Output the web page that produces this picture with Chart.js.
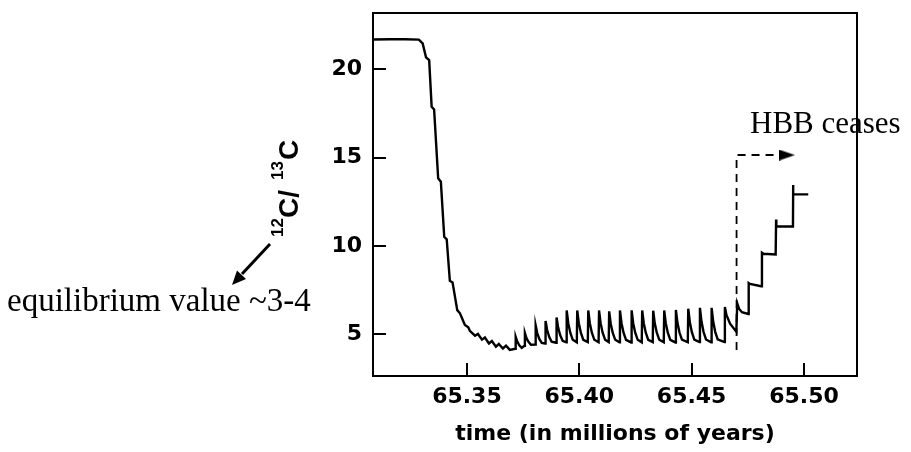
<!DOCTYPE html>
<html><head><meta charset="utf-8">
<script src="https://cdn.jsdelivr.net/npm/chart.js@4.4.0/dist/chart.umd.min.js"></script>
<style>html,body{margin:0;padding:0;background:#fff}canvas{display:block}</style>
</head><body>
<canvas id="c" width="911" height="452"></canvas>
<script>
// time (millions of years) and 12C/13C ratio
const times = [
  65.3082, 65.3157, 65.3224, 65.3286, 65.3303, 65.3318, 65.3332, 65.3343, 65.3354, 65.3372,
  65.3384, 65.3399, 65.3410, 65.3424, 65.3436, 65.3457, 65.3469, 65.3491, 65.3506, 65.3513,
  65.3536, 65.3549, 65.3567, 65.3580, 65.3598, 65.3611, 65.3629, 65.3642, 65.3660, 65.3674,
  65.3691,
  65.3715, 65.3717, 65.3724, 65.3733, 65.3744,
  65.3756, 65.3758, 65.3765, 65.3774, 65.3785,
  65.3804, 65.3806, 65.3813, 65.3822, 65.3833,
  65.3848, 65.3850, 65.3857, 65.3866, 65.3877,
  65.3897, 65.3899, 65.3906, 65.3915, 65.3926,
  65.3942, 65.3944, 65.3951, 65.3960, 65.3971,
  65.3989, 65.3991, 65.3998, 65.4007, 65.4018,
  65.4038, 65.4040, 65.4047, 65.4056, 65.4067,
  65.4086, 65.4088, 65.4095, 65.4104, 65.4115,
  65.4131, 65.4133, 65.4140, 65.4149, 65.4160,
  65.4179, 65.4181, 65.4188, 65.4197, 65.4208,
  65.4231, 65.4233, 65.4240, 65.4249, 65.4260,
  65.4278, 65.4280, 65.4287, 65.4296, 65.4307,
  65.4327, 65.4329, 65.4336, 65.4345, 65.4356,
  65.4376, 65.4378, 65.4385, 65.4394, 65.4405,
  65.4428, 65.4430, 65.4437, 65.4446, 65.4457,
  65.4483, 65.4485, 65.4492, 65.4501, 65.4512,
  65.4535, 65.4537, 65.4544, 65.4553, 65.4564,
  65.4587, 65.4589, 65.4596, 65.4605, 65.4616,
  65.4646, 65.4648, 65.4655, 65.4671, 65.4699,
  65.4703, 65.4711, 65.4724, 65.4752, 65.4754, 65.4760, 65.4809, 65.4813, 65.4820, 65.4874,
  65.4876, 65.4877, 65.4951, 65.4952, 65.4952, 65.5019
];
const ratios = [
  21.69, 21.70, 21.70, 21.68, 21.47, 20.68, 20.52, 17.88, 17.73, 13.83,
  13.64, 10.52, 10.38, 8.03, 7.94, 6.37, 6.19, 5.53, 5.40, 5.20,
  4.92, 5.02, 4.70, 4.82, 4.48, 4.62, 4.30, 4.45, 4.20, 4.36,
  4.12,
  4.18, 4.86, 4.59, 4.38, 4.23,
  4.35, 5.07, 4.78, 4.57, 4.41,
  4.42, 5.50, 5.07, 4.74, 4.51,
  4.48, 5.75, 5.24, 4.86, 4.58,
  4.52, 5.95, 5.38, 4.95, 4.63,
  4.55, 6.35, 5.63, 5.09, 4.69,
  4.55, 6.35, 5.63, 5.09, 4.69,
  4.56, 6.35, 5.63, 5.09, 4.69,
  4.55, 6.35, 5.63, 5.09, 4.69,
  4.56, 6.30, 5.60, 5.08, 4.69,
  4.55, 6.35, 5.63, 5.09, 4.69,
  4.54, 6.36, 5.63, 5.09, 4.69,
  4.55, 6.35, 5.63, 5.09, 4.69,
  4.56, 6.34, 5.62, 5.09, 4.69,
  4.55, 6.35, 5.63, 5.09, 4.69,
  4.54, 6.38, 5.65, 5.10, 4.70,
  4.55, 6.45, 5.69, 5.12, 4.70,
  4.56, 6.50, 5.72, 5.14, 4.71,
  4.55, 6.50, 5.72, 5.14, 4.71,
  4.56, 6.55, 6.10, 5.60, 5.15,
  6.75, 6.45, 6.25, 6.15, 7.90, 7.85, 7.72, 9.62, 9.56, 9.52,
  11.50, 11.12, 11.10, 13.45, 12.92, 12.92
];
// "HBB ceases" marker (dashed line and arrow)
const hbbTimes = [65.4700, 65.4700, 65.4924];
const hbbRatios = [4.11, 15.15, 15.15];
const arrowTimes = [65.4924];
const arrowRatios = [15.15];
const xTicks = [65.35, 65.40, 65.45, 65.50];
const yTicks = [5, 10, 15, 20];
const xRange = [65.3082, 65.5236];
const yRange = [2.64, 23.19];

const ah = document.createElement('canvas');
ah.width = 16; ah.height = 11;
(function(){ const g = ah.getContext('2d'); g.fillStyle = '#000'; g.beginPath(); g.moveTo(0,0); g.lineTo(16,5.5); g.lineTo(0,11); g.closePath(); g.fill(); })();

const annot = {
  id: 'annot',
  beforeDraw(chart){ const c = chart.ctx; c.save(); c.fillStyle = '#fff'; c.fillRect(0,0,chart.width,chart.height); c.restore(); },
  afterDraw(chart){
    const c = chart.ctx, a = chart.chartArea;
    c.save();
    c.fillStyle = '#000';
    c.textAlign = 'left'; c.textBaseline = 'alphabetic';
    c.font = "31px 'Liberation Serif'";
    c.fillText('HBB ceases', 750, 133);
    c.font = "33px 'Liberation Serif'";
    c.fillText('equilibrium value ~3-4', 7, 311);
    // y-axis label 12C/13C
    c.save();
    c.translate(298, 237); c.rotate(-Math.PI/2);
    c.font = "bold 17px 'Liberation Sans'"; c.fillText('12', 0, -15);
    c.font = "bold 28px 'Liberation Sans'"; c.fillText('C/', 19, 0);
    c.font = "bold 17px 'Liberation Sans'"; c.fillText('13', 57, -15);
    c.font = "bold 28px 'Liberation Sans'"; c.fillText('C', 77, 0);
    c.restore();
    // arrow to equilibrium text
    c.strokeStyle = '#000'; c.lineWidth = 3;
    c.beginPath(); c.moveTo(270, 244); c.lineTo(242, 274); c.stroke();
    c.beginPath(); c.moveTo(232, 285); c.lineTo(246, 279); c.lineTo(237, 270.5); c.closePath(); c.fill();
    // frame
    c.lineWidth = 2;
    c.strokeRect(a.left, a.top, a.right - a.left, a.bottom - a.top);
    c.restore();
  }
};

new Chart(document.getElementById('c'), {
  type: 'scatter',
  data: { datasets: [
    { data: times.map((t,i)=>({x:t, y:ratios[i]})), showLine:true, borderColor:'#000', borderWidth:2.4, pointRadius:0, tension:0, fill:false },
    { data: hbbTimes.map((t,i)=>({x:t, y:hbbRatios[i]})), showLine:true, borderColor:'#000', borderWidth:1.8, borderDash:[8,6], pointRadius:0, tension:0 },
    { data: arrowTimes.map((t,i)=>({x:t, y:arrowRatios[i]})), showLine:false, pointStyle: ah, pointRadius: 8, borderWidth:0, backgroundColor:'#000' }
  ]},
  options: {
    responsive:false, animation:false, devicePixelRatio:1,
    layout:{ padding:{ left:0, right:54, top:13, bottom:0 } },
    plugins:{ legend:{display:false}, tooltip:{enabled:false} },
    scales:{
      x:{
        type:'linear', min:xRange[0], max:xRange[1],
        afterBuildTicks: s => { s.ticks = xTicks.map(v=>({value:v})); },
        afterFit: s => { s.height = 76; s.paddingLeft = 0; s.paddingRight = 0; },
        grid:{ drawOnChartArea:false, drawTicks:true, tickLength:-13, color:'#000', lineWidth:2 },
        border:{ display:false },
        ticks:{ padding:21.5, color:'#000', font:{family:'DejaVu Sans', size:22, weight:'bold'}, callback: v => Number(v).toFixed(2), autoSkip:false, maxRotation:0 },
        title:{ display:true, text:'time (in millions of years)', color:'#000', font:{family:'DejaVu Sans', size:22, weight:'bold'}, padding:{top:0, bottom:5} }
      },
      y:{
        type:'linear', min:yRange[0], max:yRange[1],
        afterBuildTicks: s => { s.ticks = yTicks.map(v=>({value:v})); },
        afterFit: s => { s.width = 373; s.paddingTop = 0; s.paddingBottom = 0; },
        grid:{ drawOnChartArea:false, drawTicks:true, tickLength:-13, color:'#000', lineWidth:2 },
        border:{ display:false },
        ticks:{ padding:24, color:'#000', font:{family:'DejaVu Sans', size:22, weight:'bold'}, callback: v => String(v), autoSkip:false }
      }
    }
  },
  plugins:[annot]
});
</script>
</body></html>
